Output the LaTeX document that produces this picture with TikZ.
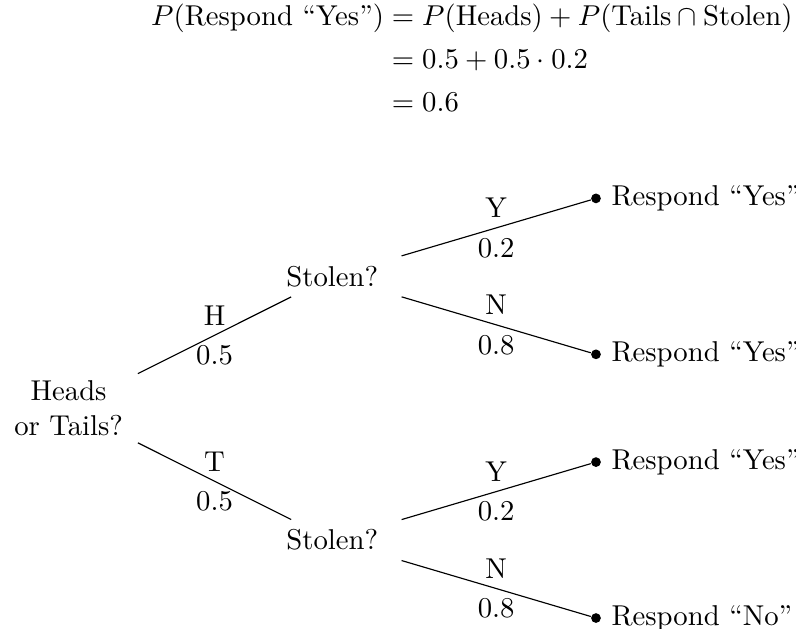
\documentclass[tikz,border=0pt]{standalone}
\usepackage{tikz}
\usepackage{amsmath, amssymb}
\usetikzlibrary{positioning}
\newcommand{\resp}[1]{Respond “#1”}

\begin{document}
\begin{tikzpicture}[baseline=(current bounding box.center)]
    \tikzset{
        choice/.style={text width=1.45cm, align=center},
        outcome/.style={circle, fill, inner sep=1.2pt}
    }
    
    \def\lev{3.23};
    \def\gapa{1.615};
    \def\gapb{0.955};
    
    \useasboundingbox (0,0) rectangle (9.75,-7.70);
    
    % Total probability
    \node [inner sep=0] (eq) at (5.78,-0.75) {$\begin{aligned}
        P(\text{\resp{Yes}}) &= P(\text{Heads}) + P(\text{Tails} \cap \text{Stolen})\\
        &= 0.5 + 0.5 \cdot 0.2\\
        &= 0.6
    \end{aligned}$};
    
    % Coin toss and theft questions
    \node [choice] (coin) at (0.84,-5.0) {Heads\\or Tails?};
    \node [choice] (st1) at ({0.84+\lev},{-5.0+\gapa}) {Stolen?};
    \node [choice] (st2) at ({0.84+\lev},{-5.0-\gapa}) {Stolen?};
    
    % Outcomes
    \node [outcome] (o1) at ({0.84+2*\lev},{-5.0+\gapa+\gapb}) {};
    \node [outcome] (o2) at ({0.84+2*\lev},{-5.0+\gapa-\gapb}) {};
    \node [outcome] (o3) at ({0.84+2*\lev},{-5.0-\gapa+\gapb}) {};
    \node [outcome] (o4) at ({0.84+2*\lev},{-5.0-\gapa-\gapb}) {};
    
    \node [right=0pt of o1] (r1) {\resp{Yes}};
    \node [right=0pt of o2] (r2) {\resp{Yes}};
    \node [right=0pt of o3] (r3) {\resp{Yes}};
    \node [right=0pt of o4] (r4) {\resp{No}};
    
    % Branches
    \draw (coin) -- node[above] {H} node[below] {0.5} (st1);
    \draw (coin) -- node[above] {T} node[below] {0.5} (st2);
    \draw (st1) -- node[above] {Y} node[below] {0.2} (o1);
    \draw (st1) -- node[above] {N} node[below] {0.8} (o2);
    \draw (st2) -- node[above] {Y} node[below] {0.2} (o3);
    \draw (st2) -- node[above] {N} node[below] {0.8} (o4);
\end{tikzpicture}
\end{document}
